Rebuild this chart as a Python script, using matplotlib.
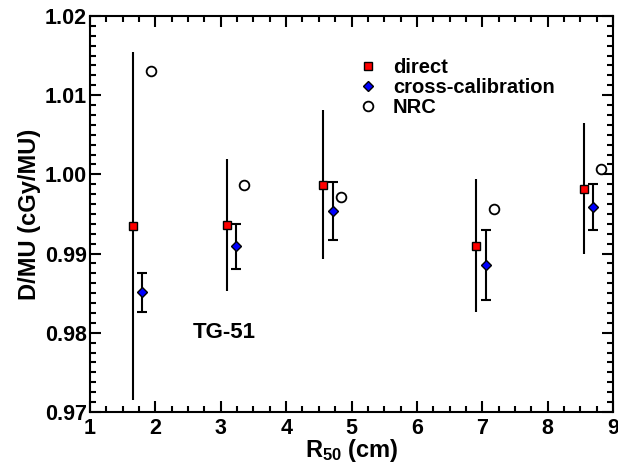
import matplotlib
matplotlib.use("Agg")
import matplotlib.pyplot as plt
from matplotlib.ticker import MultipleLocator

plt.rcParams['font.family'] = ['Liberation Sans', 'DejaVu Sans']
plt.rcParams['font.weight'] = 'bold'
plt.rcParams['mathtext.fontset'] = 'custom'
plt.rcParams['mathtext.rm'] = 'Liberation Sans:bold'
plt.rcParams['mathtext.bf'] = 'Liberation Sans:bold'
plt.rcParams['mathtext.it'] = 'Liberation Sans:bold'

# Data
direct_x = [1.66, 3.09, 4.57, 6.91, 8.56]
direct_y = [0.9935, 0.9936, 0.9987, 0.9910, 0.9982]
direct_err = [0.0220, 0.0083, 0.0094, 0.0084, 0.0083]

cross_x = [1.80, 3.23, 4.71, 7.06, 8.70]
cross_y = [0.9851, 0.9909, 0.9954, 0.9886, 0.9959]
cross_err = [0.0025, 0.0028, 0.0037, 0.0044, 0.0029]

nrc_x = [1.93, 3.35, 4.84, 7.18, 8.82]
nrc_y = [1.0131, 0.9986, 0.9972, 0.9956, 1.0007]

fig = plt.figure(figsize=(6.18, 4.65), dpi=100)
ax = fig.add_axes([0.1456, 0.114, 0.8464, 0.8516])

ax.errorbar(direct_x, direct_y, yerr=direct_err, fmt='none', ecolor='black',
            elinewidth=1.5, capsize=0, zorder=2)
ax.errorbar(cross_x, cross_y, yerr=cross_err, fmt='none', ecolor='black',
            elinewidth=1.5, capsize=3.5, capthick=1.5, zorder=2)

ax.plot(direct_x, direct_y, 's', color='red', markeredgecolor='black',
        markeredgewidth=1.0, markersize=6, linestyle='none', label='direct', zorder=3)
ax.plot(cross_x, cross_y, 'D', color='blue', markeredgecolor='black',
        markeredgewidth=1.0, markersize=5.5, linestyle='none', label='cross-calibration', zorder=3)
ax.plot(nrc_x, nrc_y, 'o', color='white', markeredgecolor='black',
        markeredgewidth=1.3, markersize=7, linestyle='none', label='NRC', zorder=3)

ax.set_xlim(1, 9)
ax.set_ylim(0.97, 1.02)
ax.xaxis.set_major_locator(MultipleLocator(1))
ax.xaxis.set_minor_locator(MultipleLocator(0.25))
ax.yaxis.set_major_locator(MultipleLocator(0.01))
ax.yaxis.set_minor_locator(MultipleLocator(0.00125))
ax.yaxis.set_major_formatter(matplotlib.ticker.FormatStrFormatter('%.2f'))

ax.tick_params(which='both', direction='in', top=True, right=True, width=1.5,
               labelsize=15.5)
ax.tick_params(which='major', length=8)
ax.tick_params(which='minor', length=4)
ax.tick_params(axis='y', pad=2)
ax.tick_params(axis='x', pad=4)
for lbl in ax.get_xticklabels() + ax.get_yticklabels():
    lbl.set_fontweight('bold')
for s in ax.spines.values():
    s.set_linewidth(1.5)

ax.set_xlabel(r'R$_{50}$ (cm)', fontsize=17, fontweight='bold', labelpad=-1)
ax.set_ylabel('D/MU (cGy/MU)', fontsize=17, fontweight='bold', labelpad=3)

ax.text(3.06, 0.980, 'TG-51', fontsize=16, fontweight='bold', ha='center', va='center')

leg = ax.legend(loc='upper left', bbox_to_anchor=(0.512, 0.895), frameon=False,
                fontsize=14.5, handlelength=1.0, handletextpad=0.75, labelspacing=0.05,
                borderpad=0, borderaxespad=0)
for t in leg.get_texts():
    t.set_fontweight('bold')

fig.savefig('out.png', dpi=100)
